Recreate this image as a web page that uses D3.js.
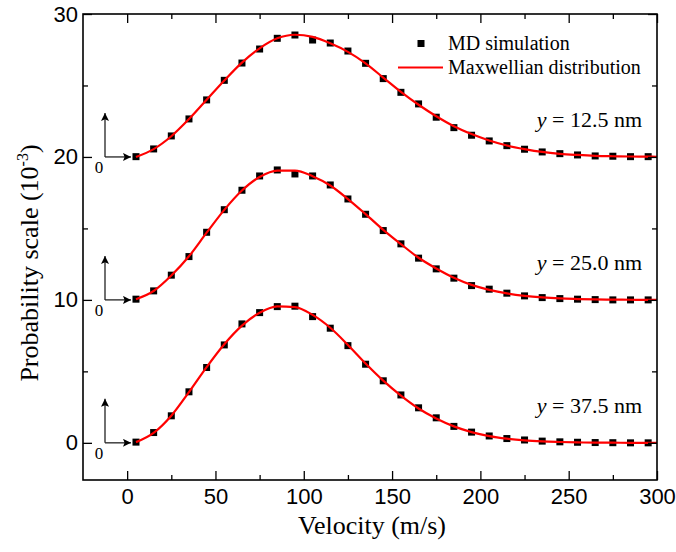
<!DOCTYPE html>
<html><head><meta charset="utf-8">
<script src="https://cdn.jsdelivr.net/npm/d3@7/dist/d3.min.js"></script>
<style>
html,body{margin:0;padding:0;background:#fff;}
svg{display:block;}
</style></head>
<body>
<svg id="chart" width="676" height="552"></svg>
<script>
// ---- data ----
const velocities = [5,15,25,35,45,55,65,75,85,95,105,115,125,135,145,155,165,175,185,195,205,215,225,235,245,255,265,275,285,295];
const offsets = [20, 10, 0];
const labels = ["12.5", "25.0", "37.5"];
const md125 = [0.02,0.56,1.47,2.66,3.99,5.36,6.57,7.55,8.30,8.53,8.18,7.97,7.41,6.55,5.48,4.52,3.71,2.78,2.05,1.52,1.12,0.79,0.54,0.35,0.23,0.14,0.07,0.05,0.02,0.02];
const md250 = [0.05,0.63,1.73,3.03,4.73,6.31,7.67,8.67,9.09,8.81,8.67,8.04,7.06,5.99,4.85,3.92,2.92,2.17,1.52,1.00,0.75,0.47,0.28,0.16,0.09,0.05,0.02,0.00,0.00,0.00];
const md375 = [0.05,0.72,1.89,3.57,5.27,6.85,8.32,9.11,9.53,9.56,8.83,8.02,6.80,5.50,4.34,3.35,2.45,1.75,1.15,0.75,0.48,0.30,0.20,0.12,0.07,0.04,0.02,0.01,0.00,0.00];
const fitVel = [5,15,25,35,45,55,65,75,85,95,105,115,125,135,145,155,165,175,185,195,205,215,225,235,245,255,265,275,285,295,300];
const fit125 = [0.0,0.55,1.45,2.65,4.0,5.35,6.6,7.6,8.3,8.55,8.4,7.95,7.35,6.55,5.55,4.55,3.65,2.85,2.15,1.6,1.15,0.8,0.55,0.35,0.22,0.14,0.08,0.05,0.03,0.02,0.01];
const fit250 = [0.05,0.62,1.7,3.05,4.7,6.3,7.65,8.6,9.05,9.05,8.65,8.0,7.05,6.0,4.9,3.9,2.95,2.2,1.55,1.05,0.7,0.45,0.28,0.17,0.1,0.06,0.03,0.02,0.01,0.0,0.0];
const fit375 = [0.05,0.7,1.9,3.55,5.3,6.9,8.2,9.1,9.55,9.5,8.95,8.05,6.85,5.55,4.35,3.3,2.4,1.7,1.15,0.75,0.47,0.29,0.17,0.1,0.06,0.03,0.02,0.01,0.0,0.0,0.0];
const xTicks = [0,50,100,150,200,250,300];
const yTicks = [0,10,20,30];
const legendLabels = ["MD simulation", "Maxwellian distribution"];

const mdSeries = [md125, md250, md375];
const fitSeries = [fit125, fit250, fit375];

// ---- layout ----
const svg = d3.select("#chart");
const L = 83, R = 657, T = 14, B = 480;
const x = d3.scaleLinear().domain([-25, 300]).range([L, R]);
const y = d3.scaleLinear().domain([-2.6, 30]).range([B, T]);
const SERIF = '"Liberation Serif"';
const SANS = '"Liberation Sans"';

const defs = svg.append("defs");
defs.append("marker").attr("id","arr").attr("viewBox","0 0 10 10").attr("refX",10).attr("refY",5)
  .attr("markerWidth",12).attr("markerHeight",8).attr("markerUnits","userSpaceOnUse").attr("orient","auto")
  .append("path").attr("d","M0,0 L10,5 L0,10 L2,5 z").attr("fill","#000");

const sq = 7;
mdSeries.forEach((s,k)=>{
  svg.append("g").selectAll("rect").data(s).join("rect")
    .attr("x",(d,i)=>x(velocities[i])-sq/2).attr("y",d=>y(d+offsets[k])-sq/2)
    .attr("width",sq).attr("height",sq).attr("fill","#000");
});
fitSeries.forEach((s,k)=>{
  svg.append("path").attr("d", d3.line().x((d,i)=>x(fitVel[i])).y(d=>y(d+offsets[k])).curve(d3.curveMonotoneX)(s))
    .attr("fill","none").attr("stroke","#ff0000").attr("stroke-width",2.2);
});

// axes
const minorX = [25,75,125,175,225,275];
const minorY = [5,15,25];
function axisGroup(axis, tx, ty){
  return svg.append("g").attr("transform",`translate(${tx},${ty})`).call(axis);
}
axisGroup(d3.axisBottom(x).tickValues(xTicks).tickSizeInner(-9).tickSizeOuter(0).tickPadding(8), 0, B);
axisGroup(d3.axisBottom(x).tickValues(minorX).tickSizeInner(-5).tickSizeOuter(0).tickFormat(""), 0, B);
axisGroup(d3.axisTop(x).tickValues(xTicks).tickSizeInner(-9).tickSizeOuter(0).tickFormat(""), 0, T);
axisGroup(d3.axisTop(x).tickValues(minorX).tickSizeInner(-5).tickSizeOuter(0).tickFormat(""), 0, T);
axisGroup(d3.axisLeft(y).tickValues(yTicks).tickSizeInner(-9).tickSizeOuter(0).tickPadding(5), L, 0);
axisGroup(d3.axisLeft(y).tickValues(minorY).tickSizeInner(-5).tickSizeOuter(0).tickFormat(""), L, 0);
axisGroup(d3.axisRight(y).tickValues(yTicks).tickSizeInner(-9).tickSizeOuter(0).tickFormat(""), R, 0);
axisGroup(d3.axisRight(y).tickValues(minorY).tickSizeInner(-5).tickSizeOuter(0).tickFormat(""), R, 0);
svg.selectAll(".domain").remove();
svg.selectAll(".tick line").attr("stroke","#000").attr("stroke-width",1.3);
svg.selectAll(".tick text").style("font-family",SANS).style("font-size","22px").attr("fill","#000");
svg.append("rect").attr("x",L).attr("y",T).attr("width",R-L).attr("height",B-T)
  .attr("fill","none").attr("stroke","#000").attr("stroke-width",1.6);

function stext(xp, yp, size){
  return svg.append("text").attr("x",xp).attr("y",yp).style("font-family",SERIF).style("font-size",size+"px").attr("fill","#000");
}
// axis titles
stext((L+R)/2+2, 534, 26).attr("text-anchor","middle").text("Velocity (m/s)");
const yt = svg.append("text").attr("transform",`translate(38,${(T+B)/2+16}) rotate(-90)`).attr("text-anchor","middle")
  .style("font-family",SERIF).style("font-size","26px").attr("fill","#000");
yt.append("tspan").text("Probability scale (10");
yt.append("tspan").attr("dy",-10).style("font-size","16px").text("-3");
yt.append("tspan").attr("dy",10).text(")");

// legend
svg.append("rect").attr("x",421-3.5).attr("y",43.5-3.5).attr("width",7).attr("height",7).attr("fill","#000");
stext(448, 50, 20).text(legendLabels[0]);
svg.append("line").attr("x1",398).attr("x2",443).attr("y1",67.5).attr("y2",67.5).attr("stroke","#ff0000").attr("stroke-width",2);
stext(448, 74, 20).text(legendLabels[1]);

// series labels and origin arrows
offsets.forEach((o,k)=>{
  const by = y(o);
  const t = stext(642, by-30, 22).attr("text-anchor","end");
  t.append("tspan").style("font-style","italic").text("y");
  t.append("tspan").text(" = " + labels[k] + " nm");
  const ox = 105;
  svg.append("line").attr("x1",ox).attr("y1",by).attr("x2",ox).attr("y2",by-44)
    .attr("stroke","#222").attr("stroke-width",1.3).attr("marker-end","url(#arr)");
  svg.append("line").attr("x1",ox).attr("y1",by).attr("x2",131).attr("y2",by)
    .attr("stroke","#222").attr("stroke-width",1.3).attr("marker-end","url(#arr)");
  stext(99, by+16, 17).attr("text-anchor","middle").text("0");
});
</script>
</body></html>
